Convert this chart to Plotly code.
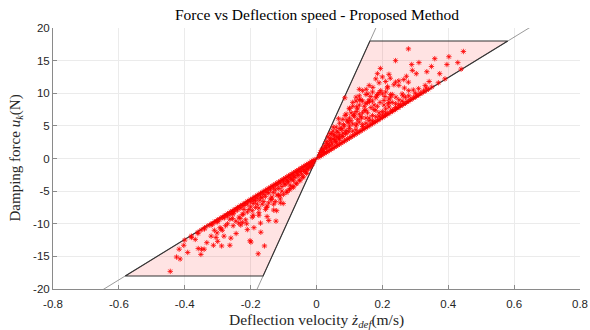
import plotly.graph_objects as go

# ---- data ----
c_max = 111.0     # steep boundary gain
c_min = 31.0      # shallow boundary gain
F_max = 18.0      # force saturation
x_ticks = [-0.8, -0.6, -0.4, -0.2, 0, 0.2, 0.4, 0.6, 0.8]
y_ticks = [-20, -15, -10, -5, 0, 5, 10, 15, 20]

pos_x = [0.279,0.446,0.402,0.359,0.240,0.311,0.289,0.429,0.396,0.349,0.439,0.194,0.291,0.335,0.374,0.185,0.220,0.303,0.224,0.273,0.265,0.250,0.279,0.240,0.342,0.171,0.130,0.151,0.216,0.250,0.267,0.294,0.333,0.156,0.183,0.208,0.225,0.241,0.263,0.086,0.135,0.161,0.193,0.218,0.100,0.122,0.150,0.174,0.087,0.112,0.137,0.067,0.097,0.122,0.051,0.077,0.041,0.066,
         0.105,0.115,0.125,0.135,0.145,0.155,0.165,0.175,0.185,0.195,0.205,0.215,0.225,0.235,0.11,0.13,0.15,0.17,0.19,0.21,0.16,0.18,0.2,0.14,0.12]
pos_y = [16.8,16.4,15.6,15.3,15.0,14.7,14.4,14.7,14.4,14.1,13.7,13.8,13.5,13.3,13.0,13.0,12.9,13.0,12.3,12.6,12.1,11.9,11.7,11.7,11.8,10.9,10.6,10.6,11.0,11.2,10.8,10.5,10.8,9.9,9.6,9.5,9.8,9.4,9.6,9.3,9.0,8.7,8.6,8.4,7.7,7.9,7.4,7.5,6.6,6.6,6.2,6.1,5.6,5.3,4.8,4.5,3.8,3.3,
         5.8,6.8,7.6,6.4,7.4,8.6,9.5,8.2,9.8,10.4,8.9,10.8,9.4,11.3,8.0,9.0,9.8,10.2,11.6,11.8,11.2,12.2,12.5,10.4,9.4]

mass_x = [0.01,0.015,0.02,0.02,0.025,0.03,0.03,0.035,0.035,0.04,0.04,0.045,0.045,0.05,0.05,0.055,0.055,0.06,0.06,0.065,0.07,0.07,0.075,0.08,0.08,0.085,0.09,0.09,0.095,0.1,0.1,0.105,0.11,0.115,0.12,0.12,0.125,0.13,0.13,0.14,0.14,0.145,0.15,0.155,0.16,0.165,0.17,0.18,0.185,0.19,0.2,0.205,0.21,0.22,0.23,0.24,0.25,0.26,0.27,0.28,0.3,
          0.06,0.07,0.08,0.09,0.1,0.11,0.12,0.13,0.14,0.15,0.16,0.17,0.18,0.19,0.2,0.21,0.22,0.23,0.24,0.25,0.12,0.14,0.16,0.18,0.2,0.22,0.1,0.11,0.13,0.15,0.17,0.19,0.21,0.23,0.26,0.28,0.31,0.33,
          0.012,0.018,0.022,0.028,0.032,0.038,0.042,0.048,0.052,0.058,0.062,0.068,0.072,0.078,0.082,0.088,0.092,0.098]
mass_y = [0.6,1.2,1.5,1.0,2.0,1.6,2.6,2.2,3.3,2.0,2.8,3.8,2.5,3.0,4.2,2.9,3.6,4.8,3.3,4.0,5.4,3.6,4.6,6.0,3.9,5.0,6.8,4.3,5.6,6.2,4.6,7.0,5.3,6.4,7.2,5.0,6.0,8.2,5.6,7.0,5.2,8.0,6.2,7.0,5.8,7.8,6.6,6.4,8.0,7.0,7.2,8.2,7.6,7.9,8.6,8.4,9.0,8.8,9.4,9.6,10.0,
          2.5,3.0,3.4,3.9,5.0,4.2,4.4,6.8,4.9,5.4,6.2,5.8,7.4,6.5,6.7,7.0,8.6,7.4,7.8,8.3,8.8,8.8,9.0,9.3,9.9,9.1,7.6,8.6,9.6,8.4,8.8,10.1,10.2,9.8,9.9,10.4,10.7,11.2,
          0.9,1.4,1.1,1.7,2.3,1.8,3.1,2.2,3.6,2.6,4.2,3.0,4.6,3.4,5.2,3.8,5.9,4.1]

band_x = [0.01,0.02,0.03,0.04,0.05,0.06,0.07,0.08,0.09,0.10,0.11,0.12,0.13,0.14,0.15,0.16,0.17,0.18,0.19,0.20,0.21,0.22,0.23,0.24,0.25,0.26,0.27,0.28,0.29,0.30,0.31,0.32,0.33,0.34,0.35,0.37,0.39,
          0.005,0.015,0.025,0.035,0.045,0.055,0.065,0.075,0.085,0.095,0.105,0.115,0.125,0.135,0.145,0.155,0.165,0.175,0.185,0.195,0.205,0.215,0.225,0.235,0.245,0.255,0.265,0.275,0.285,0.295,0.305,0.315,0.325]
band_y = [0.31,0.63,0.94,1.25,1.57,1.88,2.19,2.5,2.82,3.13,3.44,3.76,4.07,4.38,4.7,5.01,5.32,5.63,5.95,6.26,6.57,6.89,7.2,7.51,7.83,8.14,8.45,8.76,9.08,9.39,9.7,10.0,10.3,10.6,10.95,11.6,12.2,
          0.16,0.48,0.8,1.11,1.43,1.75,2.07,2.39,2.7,3.02,3.34,3.66,3.98,4.29,4.61,4.93,5.25,5.57,5.88,6.2,6.52,6.84,7.16,7.47,7.79,8.11,8.43,8.75,9.06,9.38,9.7,10.02,10.34]

neg_x = [-0.444,-0.425,-0.414,-0.417,-0.403,-0.391,-0.368,-0.359,-0.349,-0.351,-0.341,-0.333,-0.320,-0.313,-0.305,-0.302,-0.300,-0.288,-0.286,-0.293,-0.281,-0.276,-0.263,-0.260,-0.253,-0.244,-0.236,-0.225,-0.212,-0.202,-0.199,-0.177,-0.158,-0.169,-0.123,-0.145,-0.175,-0.192,-0.222,-0.253,-0.263,-0.232,-0.121,-0.101,-0.151,-0.192,-0.172,-0.136,-0.111,-0.090,-0.080,-0.131,-0.070,-0.096,
         -0.105,-0.115,-0.125,-0.135,-0.145,-0.155,-0.165,-0.175,-0.185,-0.195,-0.205,-0.215,-0.225,-0.235,-0.245,-0.255,-0.11,-0.13,-0.15,-0.17,-0.19,-0.21,-0.23,-0.27,-0.29,-0.31]
neg_y = [-17.3,-15.1,-15.4,-13.9,-13.3,-14.4,-12.4,-13.8,-13.9,-14.7,-13.9,-12.9,-11.9,-13.3,-12.1,-11.4,-12.7,-13.4,-11.0,-10.6,-11.9,-10.3,-13.3,-12.2,-10.3,-11.5,-9.9,-9.8,-10.0,-12.6,-12.8,-14.6,-13.4,-11.3,-9.6,-9.5,-8.7,-8.7,-8.5,-8.5,-9.3,-9.2,-8.0,-6.9,-7.5,-6.9,-6.4,-6.3,-5.7,-5.2,-4.1,-5.2,-3.4,-3.9,
         -5.0,-5.6,-6.6,-5.9,-6.8,-7.8,-7.0,-8.3,-7.5,-9.0,-7.8,-9.4,-8.6,-9.0,-9.6,-9.2,-6.8,-7.9,-8.9,-9.9,-10.6,-10.9,-10.2,-10.0,-10.8,-11.0]

neg_mass_x = [-0.01,-0.015,-0.02,-0.025,-0.03,-0.03,-0.035,-0.04,-0.04,-0.045,-0.05,-0.05,-0.055,-0.06,-0.06,-0.065,-0.07,-0.07,-0.075,-0.08,-0.08,-0.085,-0.09,-0.09,-0.095,-0.1,-0.1,-0.105,-0.11,-0.11,-0.115,-0.12,-0.12,-0.125,-0.13,-0.13,-0.14,-0.14,-0.145,-0.15,-0.15,-0.155,-0.16,-0.16,-0.165,-0.17,-0.175,-0.18,-0.18,-0.185,-0.19,-0.195,-0.2,-0.2,-0.21,-0.21,-0.22,-0.22,-0.23,-0.24,-0.25,-0.26,-0.27,-0.28,-0.3,-0.32,-0.34,-0.36,-0.38,
              -0.012,-0.018,-0.022,-0.028,-0.032,-0.038,-0.042,-0.048,-0.052,-0.058,-0.062,-0.068,-0.072,-0.078,-0.082,-0.088]
neg_mass_y = [-0.5,-1.0,-1.2,-1.6,-1.4,-2.3,-2.0,-1.8,-2.8,-2.4,-2.0,-3.4,-2.6,-2.2,-3.8,-2.9,-2.6,-4.4,-3.2,-2.9,-4.6,-3.6,-3.3,-5.0,-4.0,-3.5,-5.5,-4.3,-3.8,-6.2,-4.6,-4.1,-5.6,-4.8,-4.5,-7.0,-4.8,-6.2,-5.3,-5.2,-7.3,-5.8,-5.5,-6.6,-6.0,-5.9,-7.6,-6.1,-7.0,-6.5,-6.4,-8.0,-6.6,-7.4,-7.0,-8.2,-7.2,-7.8,-7.6,-7.9,-8.2,-8.5,-8.8,-9.1,-9.7,-10.2,-10.8,-11.5,-12.1,
              -0.8,-1.3,-1.0,-1.6,-2.1,-1.7,-2.9,-2.0,-3.3,-2.4,-3.9,-2.8,-4.3,-3.1,-4.8,-3.5]

neg_band_x = [-0.01,-0.02,-0.03,-0.04,-0.05,-0.06,-0.07,-0.08,-0.09,-0.10,-0.11,-0.12,-0.13,-0.14,-0.15,-0.16,-0.17,-0.18,-0.19,-0.20,-0.21,-0.22,-0.23,-0.24,-0.25,-0.26,-0.27,-0.28,-0.29,-0.30,-0.31,-0.32,-0.33,-0.34,-0.35,-0.36,-0.38,-0.40,
              -0.005,-0.015,-0.025,-0.035,-0.045,-0.055,-0.065,-0.075,-0.085,-0.095,-0.105,-0.115,-0.125,-0.135,-0.145,-0.155,-0.165,-0.175,-0.185,-0.195,-0.205,-0.215,-0.225,-0.235,-0.245,-0.255,-0.265,-0.275,-0.285,-0.295,-0.305,-0.315]
neg_band_y = [-0.31,-0.63,-0.94,-1.25,-1.57,-1.88,-2.19,-2.5,-2.82,-3.13,-3.44,-3.76,-4.07,-4.38,-4.7,-5.01,-5.32,-5.63,-5.95,-6.26,-6.57,-6.89,-7.2,-7.51,-7.83,-8.14,-8.45,-8.76,-9.08,-9.39,-9.7,-10.0,-10.3,-10.6,-10.95,-11.3,-11.9,-12.5,
              -0.16,-0.48,-0.8,-1.11,-1.43,-1.75,-2.07,-2.39,-2.7,-3.02,-3.34,-3.66,-3.98,-4.29,-4.61,-4.93,-5.25,-5.57,-5.88,-6.2,-6.52,-6.84,-7.16,-7.47,-7.79,-8.11,-8.43,-8.75,-9.06,-9.38,-9.7,-10.02]

# ---- figure ----
fig = go.Figure()

# boundary lines through origin
xr = [x_ticks[0], x_ticks[-1]]
for c in (c_max, c_min):
    fig.add_trace(go.Scatter(x=xr, y=[c * xr[0], c * xr[1]], mode="lines",
                             line=dict(color="#555555", width=0.6),
                             hoverinfo="skip", showlegend=False))

# admissible region polygon
px = [0, F_max / c_max, F_max / c_min, 0, None, 0, -F_max / c_min, -F_max / c_max, 0]
py = [0, F_max, F_max, 0, None, 0, -F_max, -F_max, 0]
fig.add_trace(go.Scatter(x=px, y=py, mode="lines", fill="toself",
                         fillcolor="rgba(255,0,0,0.11)",
                         line=dict(color="#333333", width=1.1),
                         hoverinfo="skip", showlegend=False))

all_x = pos_x + mass_x + band_x + neg_x + neg_mass_x + neg_band_x
all_y = pos_y + mass_y + band_y + neg_y + neg_mass_y + neg_band_y
fig.add_trace(go.Scatter(x=all_x, y=all_y, mode="markers",
                         marker=dict(symbol="asterisk-open", size=4.5, color="red",
                                     line=dict(color="rgba(255,0,0,0.9)", width=0.8)),
                         showlegend=False))

axis_common = dict(showgrid=True, gridcolor="#ebebeb", gridwidth=1,
                   zeroline=False, showline=True, linecolor="#8a8a8a", linewidth=1,
                   ticks="inside", ticklen=4, tickcolor="#8a8a8a",
                   tickfont=dict(family="Liberation Sans, Arial, sans-serif", size=11.5, color="#262626"),
                   mirror=False, automargin=False)

serif = "Liberation Serif, serif"
fig.update_layout(
    width=590, height=330,
    margin=dict(l=53, r=10, t=28, b=41),
    paper_bgcolor="white", plot_bgcolor="white",
    xaxis=dict(range=[-0.8, 0.8], tickvals=x_ticks, ticktext=[f"{v:g}" for v in x_ticks],
               ticklabelstandoff=4, **axis_common),
    yaxis=dict(range=[-20, 20], tickvals=y_ticks, ticktext=[str(v) for v in y_ticks],
               **axis_common),
    annotations=[
        dict(text="Force vs Deflection speed - Proposed Method", xref="paper", yref="paper",
             x=0.5, y=1, yshift=14, xanchor="center", yanchor="middle", showarrow=False,
             font=dict(family=serif, size=15.5, color="#000000")),
        dict(text="Deflection velocity <i>ż</i><sub><i>def</i></sub>(m/s)", xref="paper", yref="paper",
             x=0.5, y=0, yshift=-31, xanchor="center", yanchor="middle", showarrow=False,
             font=dict(family=serif, size=15.5, color="#262626")),
        dict(text="Damping force <i>u</i><sub><i>k</i></sub>(N)", xref="paper", yref="paper",
             x=0, y=0.5, xshift=-38, xanchor="center", yanchor="middle", showarrow=False,
             textangle=-90, font=dict(family=serif, size=15, color="#262626")),
    ],
)

fig.write_html("out.html", config={"displayModeBar": False})

# remove the default page margin so the figure sits at the window's top-left corner
with open("out.html", "r", encoding="utf-8") as f:
    html = f.read()
html = html.replace("<body>", '<body style="margin:0;padding:0;overflow:hidden">', 1)
with open("out.html", "w", encoding="utf-8") as f:
    f.write(html)
